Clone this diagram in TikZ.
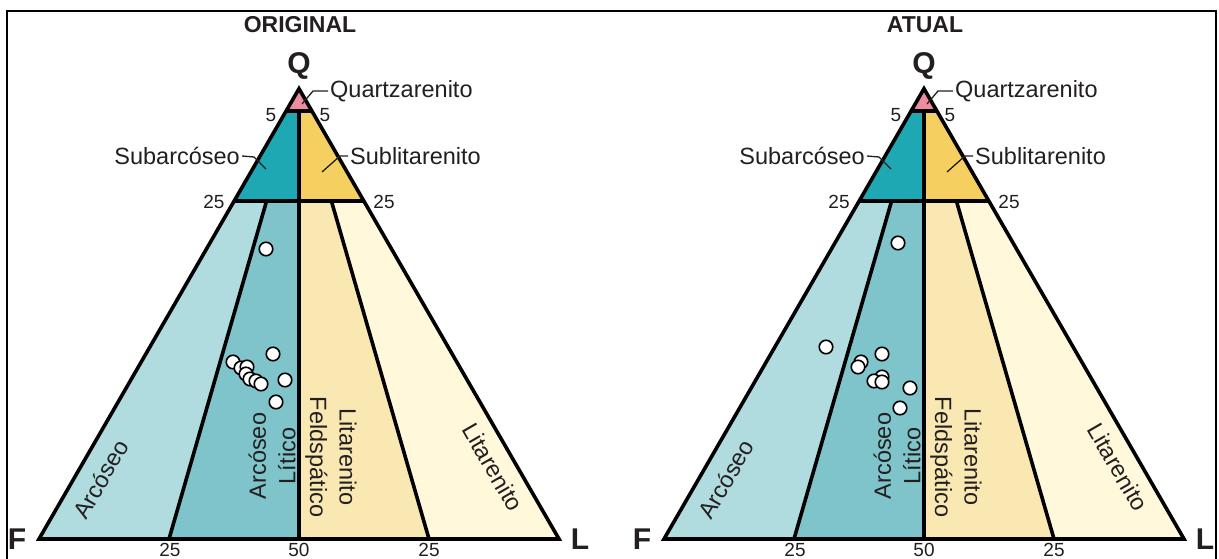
\documentclass[tikz,border=0pt]{standalone}
\usepackage{fontspec}
\setmainfont{Liberation Sans}
\definecolor{txt}{HTML}{231F20}
\definecolor{cQz}{HTML}{EE8BA0}
\definecolor{cSa}{HTML}{1EA8B4}
\definecolor{cSl}{HTML}{F5CF5F}
\definecolor{cAr}{HTML}{B0DCE0}
\definecolor{cAl}{HTML}{7EC4CA}
\definecolor{cLf}{HTML}{FAE8B2}
\definecolor{cLi}{HTML}{FFF8DA}
\tikzset{
  lbl/.style={font=\fontsize{23.5}{29.5}\selectfont, text=txt, inner sep=0pt},
  num/.style={font=\fontsize{19}{22}\selectfont, text=txt, inner sep=0pt},
  ttl/.style={font=\bfseries\fontsize{23}{26}\selectfont, text=txt, inner sep=0pt},
  vtx/.style={font=\bfseries\fontsize{30}{32}\selectfont, text=txt, inner sep=0pt},
  edge/.style={line width=3.6pt, line join=miter, draw=black},
  leader/.style={line width=1.3pt, draw=txt},
  smp/.style={circle, draw=black, fill=white, line width=1.6pt, minimum size=13.5pt, inner sep=0pt},
  frame/.style={line width=2.6pt, draw=black},
}
\newcommand\tripanel[3]{%
\begin{scope}[xshift=#2pt]
  \coordinate (Q#1) at (299,88.7);
  \coordinate (F#1) at (39,539);
  \coordinate (L#1) at (559,539);
  \coordinate (a5#1) at (286,111.2);
  \coordinate (b5#1) at (312,111.2);
  \coordinate (m5#1) at (299,111.2);
  \coordinate (a25#1) at (234,201.3);
  \coordinate (b25#1) at (364,201.3);
  \coordinate (m25#1) at (299,201.3);
  \coordinate (c1#1) at (266.5,201.3);
  \coordinate (c2#1) at (331.5,201.3);
  \coordinate (g1#1) at (169,539);
  \coordinate (g2#1) at (299,539);
  \coordinate (g3#1) at (429,539);
  % fills
  \fill[cQz] (Q#1) -- (a5#1) -- (b5#1) -- cycle;
  \fill[cSa] (a5#1) -- (m5#1) -- (m25#1) -- (a25#1) -- cycle;
  \fill[cSl] (m5#1) -- (b5#1) -- (b25#1) -- (m25#1) -- cycle;
  \fill[cAr] (a25#1) -- (c1#1) -- (g1#1) -- (F#1) -- cycle;
  \fill[cAl] (c1#1) -- (m25#1) -- (g2#1) -- (g1#1) -- cycle;
  \fill[cLf] (m25#1) -- (c2#1) -- (g3#1) -- (g2#1) -- cycle;
  \fill[cLi] (c2#1) -- (b25#1) -- (L#1) -- (g3#1) -- cycle;
  % inner lines
  \draw[edge] (a5#1) -- (b5#1);
  \draw[edge] (a25#1) -- (b25#1);
  \draw[edge] (m5#1) -- (g2#1);
  \draw[edge] (c1#1) -- (g1#1);
  \draw[edge] (c2#1) -- (g3#1);
  \draw[edge] (Q#1) -- (F#1) -- (L#1) -- cycle;
  % titles and vertices
  \node[ttl] (title#1) at (300,25) {#3};
  \node[vtx] (vQ#1) at (299,66) {Q};
  \node[vtx] (vF#1) at (17,539) {F};
  \node[vtx] (vL#1) at (580,539) {L};
  % scale numbers
  \node[num] (n5a#1) at (271,115) {5};
  \node[num] (n5b#1) at (325,115) {5};
  \node[num] (n25a#1) at (214,202) {25};
  \node[num] (n25b#1) at (384,202) {25};
  \node[num] (nb1#1) at (170,549.5) {25};
  \node[num] (nb2#1) at (299,549.5) {50};
  \node[num] (nb3#1) at (429,549.5) {25};
  % field labels with leaders
  \node[lbl, anchor=west] (qz#1) at (330,91) {Quartzarenito};
  \coordinate (qzp#1) at (302,104);
  \coordinate (qzk#1) at (313,91);
  \draw[leader] (qzp#1) -- (qzk#1) -- ([xshift=-2pt]qz#1.west);
  \node[lbl, anchor=east] (sa#1) at (240,156) {Subarcóseo};
  \coordinate (sak#1) at (254,157);
  \coordinate (sap#1) at (266,169);
  \draw[leader] ([xshift=2pt]sa#1.east) -- (sak#1) -- (sap#1);
  \node[lbl, anchor=west] (sl#1) at (350,156) {Sublitarenito};
  \coordinate (slp#1) at (322,172);
  \coordinate (slk#1) at (340,156);
  \draw[leader] (slp#1) -- (slk#1) -- ([xshift=-2pt]sl#1.west);
  % rotated labels
  \node[lbl, rotate=60] (ar#1) at (101,479) {Arcóseo};
  \node[lbl, rotate=90, align=center] (al#1) at (272,456) {Arcóseo\\Lítico};
  \node[lbl, rotate=-90, align=center] (lf#1) at (331,457) {Litarenito\\Feldspático};
  \node[lbl, rotate=-60] (li#1) at (493,467) {Litarenito};
\end{scope}}
\begin{document}
\begin{tikzpicture}[x=1pt,y=-1pt]
  \useasboundingbox (0,0) rectangle (1219,559);
  \clip (0,0) rectangle (1219,559);
  \fill[white] (0,0) rectangle (1219,559);
  \draw[frame] (7,11) rectangle (1216,620);
  \tripanel{o}{0}{ORIGINAL}
  \tripanel{a}{625}{ATUAL}
  % samples, original
  \node[smp] (o1) at (266,249) {};
  \node[smp] (o2) at (273,354) {};
  \node[smp] (o3) at (233,362) {};
  \node[smp] (o4) at (241,368) {};
  \node[smp] (o5) at (247,367) {};
  \node[smp] (o6) at (246,374) {};
  \node[smp] (o7) at (250,379) {};
  \node[smp] (o8) at (256,381) {};
  \node[smp] (o9) at (261,384) {};
  \node[smp] (o10) at (285,380) {};
  \node[smp] (o11) at (276,402) {};
  % samples, atual
  \node[smp] (a1) at (898,243) {};
  \node[smp] (a2) at (826,347) {};
  \node[smp] (a3) at (882,354) {};
  \node[smp] (a4) at (861,362) {};
  \node[smp] (a5) at (858,367) {};
  \node[smp] (a6) at (882,377) {};
  \node[smp] (a7) at (874,381) {};
  \node[smp] (a8) at (882,382) {};
  \node[smp] (a9) at (910,388) {};
  \node[smp] (a10) at (900,408) {};
\end{tikzpicture}
\end{document}
